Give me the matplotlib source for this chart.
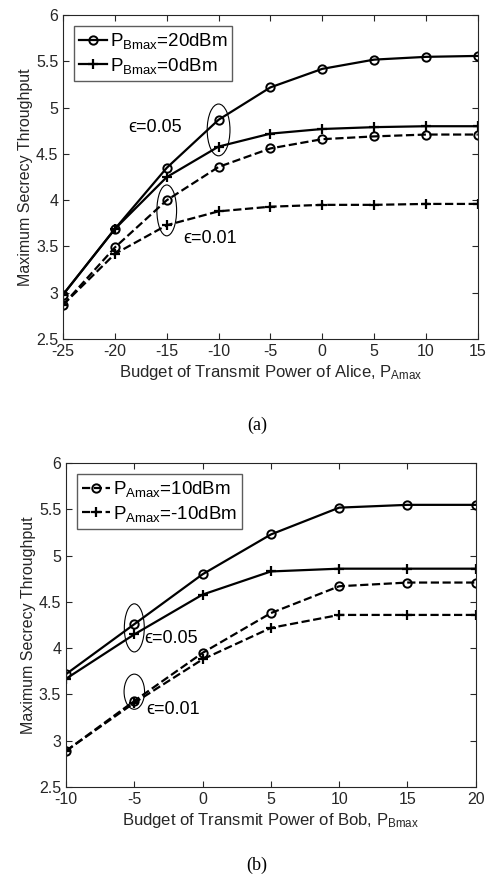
import numpy as np
import matplotlib.pyplot as plt
from matplotlib.patches import Ellipse

plt.rcParams['font.family'] = ['Liberation Sans', 'DejaVu Sans']
plt.rcParams['mathtext.fontset'] = 'custom'
plt.rcParams['mathtext.rm'] = 'Liberation Sans'
plt.rcParams['mathtext.it'] = 'Liberation Sans:italic'
plt.rcParams['axes.unicode_minus'] = False

# (a) throughput vs Alice power
pa = [-25, -20, -15, -10, -5, 0, 5, 10, 15]
a_05_pb20 = [2.98, 3.69, 4.35, 4.87, 5.22, 5.42, 5.52, 5.55, 5.56]
a_05_pb0 = [2.98, 3.69, 4.25, 4.58, 4.72, 4.77, 4.79, 4.80, 4.80]
a_01_pb20 = [2.87, 3.49, 4.00, 4.36, 4.56, 4.66, 4.69, 4.71, 4.71]
a_01_pb0 = [2.87, 3.42, 3.73, 3.88, 3.93, 3.95, 3.95, 3.96, 3.96]

# (b) throughput vs Bob power
pb = [-10, -5, 0, 5, 10, 15, 20]
b_05_pa10 = [3.72, 4.26, 4.80, 5.23, 5.52, 5.55, 5.55]
b_05_pam10 = [3.67, 4.15, 4.58, 4.83, 4.86, 4.86, 4.86]
b_01_pa10 = [2.89, 3.43, 3.95, 4.38, 4.67, 4.71, 4.71]
b_01_pam10 = [2.89, 3.41, 3.88, 4.22, 4.36, 4.36, 4.36]

fig = plt.figure(figsize=(4.89, 8.75), dpi=100)
ax1 = fig.add_axes([0.129, 0.6126, 0.848, 0.370])
ax2 = fig.add_axes([0.135, 0.1006, 0.838, 0.370])

circ = dict(marker='o', mfc='none', mec='k', ms=6, mew=1.4)
plus = dict(marker='+', mec='k', ms=7, mew=1.6)

l1, = ax1.plot(pa, a_05_pb20, 'k-', lw=1.6, **circ)
l2, = ax1.plot(pa, a_05_pb0, 'k-', lw=1.6, **plus)
ax1.plot(pa, a_01_pb20, 'k--', lw=1.6, **circ)
ax1.plot(pa, a_01_pb0, 'k--', lw=1.6, **plus)

ax2.plot(pb, b_05_pa10, 'k-', lw=1.6, **circ)
ax2.plot(pb, b_05_pam10, 'k-', lw=1.6, **plus)
m1, = ax2.plot(pb, b_01_pa10, 'k--', lw=1.6, **circ)
m2, = ax2.plot(pb, b_01_pam10, 'k--', lw=1.6, **plus)

leg_kw = dict(loc='upper left', fontsize=13.5, frameon=True, fancybox=False,
              edgecolor='#333333', handlelength=1.5, handletextpad=0.15,
              borderaxespad=0.6, borderpad=0.25, labelspacing=0.25)
ax1.legend([l1, l2], ['$\\mathregular{P_{Bmax}}$=20dBm', '$\\mathregular{P_{Bmax}}$=0dBm'], **leg_kw)
ax2.legend([m1, m2], ['$\\mathregular{P_{Amax}}$=10dBm', '$\\mathregular{P_{Amax}}$=-10dBm'], **leg_kw)

ax1.add_patch(Ellipse((-10, 4.76), 2.2, 0.56, fill=False, ec='k', lw=0.8))
ax1.add_patch(Ellipse((-15, 3.89), 1.9, 0.55, fill=False, ec='k', lw=0.8))
ax1.text(-18.7, 4.79, '\u03f5=0.05', fontsize=13, va='center')
ax1.text(-13.4, 3.59, '\u03f5=0.01', fontsize=13, va='center')

ax2.add_patch(Ellipse((-5, 4.22), 1.46, 0.52, fill=False, ec='k', lw=0.8))
ax2.add_patch(Ellipse((-5, 3.53), 1.5, 0.38, fill=False, ec='k', lw=0.8))
ax2.text(-4.3, 4.11, '\u03f5=0.05', fontsize=13, va='center')
ax2.text(-4.1, 3.34, '\u03f5=0.01', fontsize=13, va='center')

for ax, xs in [(ax1, pa), (ax2, pb)]:
    ax.set_xlim(xs[0], xs[-1])
    ax.set_ylim(2.5, 6)
    ax.set_xticks(xs)
    ax.set_yticks([2.5, 3, 3.5, 4, 4.5, 5, 5.5, 6])
    ax.set_yticklabels(['2.5', '3', '3.5', '4', '4.5', '5', '5.5', '6'])
    ax.tick_params(direction='in', top=True, right=True, labelsize=11.5,
                   colors='#262626', length=4)
    for s in ax.spines.values():
        s.set_color('#262626')
    ax.set_ylabel('Maximum Secrecy Throughput', fontsize=11.5, color='#262626',
                  labelpad=2)

ax1.set_xlabel('Budget of Transmit Power of Alice, $\\mathregular{P_{Amax}}$',
               fontsize=12, color='#262626', labelpad=3)
ax2.set_xlabel('Budget of Transmit Power of Bob, $\\mathregular{P_{Bmax}}$',
               fontsize=12, color='#262626', labelpad=3)

fig.text(0.526, 1 - 425 / 875, '(a)', ha='center', va='center',
         fontsize=13, family='Liberation Serif')
fig.text(0.526, 1 - 865 / 875, '(b)', ha='center', va='center',
         fontsize=13, family='Liberation Serif')

fig.savefig('out.png', dpi=100)
